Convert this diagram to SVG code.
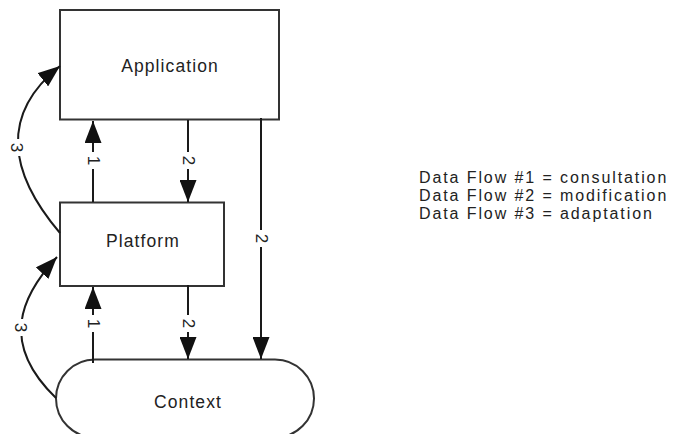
<svg xmlns="http://www.w3.org/2000/svg" width="673" height="434" viewBox="0 0 673 434">
<style>
.node{fill:#fff;stroke:#333;stroke-width:2}
.lbl{font-family:"Liberation Sans",Arial,sans-serif;font-size:17.5px;fill:#222;letter-spacing:1.1px}
.edge{fill:none;stroke:#1a1a1a;stroke-width:2}
.el{font-family:"Liberation Sans",Arial,sans-serif;font-size:17px;fill:#222}
.bg{fill:#fff}
.leg{font-family:"Liberation Sans",Arial,sans-serif;font-size:16px;fill:#222;letter-spacing:1.9px}
</style>
<defs>
<marker id="ah" viewBox="0 0 22 17" refX="22" refY="8.5" markerUnits="userSpaceOnUse" markerWidth="22" markerHeight="17" orient="auto">
<path d="M0,0 L22,8.5 L0,17 z" fill="#111"/>
</marker>
</defs>
<rect width="673" height="434" fill="#fff"/>
<g id="application">
<rect class="node" x="60" y="10" width="219" height="109.5"/>
<text class="lbl" x="170" y="72" text-anchor="middle">Application</text>
</g>
<g id="platform">
<rect class="node" x="60" y="202.5" width="164" height="83.5"/>
<text class="lbl" x="143" y="247" text-anchor="middle">Platform</text>
</g>
<g id="context">
<rect class="node" x="56" y="359.5" width="258" height="78" rx="39" ry="39"/>
<text class="lbl" x="188" y="408" text-anchor="middle">Context</text>
</g>
<g id="connectors">
<path class="edge" d="M93,202 L93,121" marker-end="url(#ah)"/>
<path class="edge" d="M188,120 L188,202" marker-end="url(#ah)"/>
<path class="edge" d="M261,118 L261,359" marker-end="url(#ah)"/>
<path class="edge" d="M93,363 L93,287" marker-end="url(#ah)"/>
<path class="edge" d="M188,285 L188,359" marker-end="url(#ah)"/>
<path class="edge" d="M60,233 C8,172 0,114 60,66" marker-end="url(#ah)"/>
<path class="edge" d="M56,398 C-1,343 21,296 57,257" marker-end="url(#ah)"/>
<rect class="bg" x="86" y="152" width="14" height="17"/>
<text class="el" transform="translate(93,160.5) rotate(90)" text-anchor="middle" dominant-baseline="central">1</text>
<rect class="bg" x="181" y="152" width="14" height="17"/>
<text class="el" transform="translate(188,160.5) rotate(90)" text-anchor="middle" dominant-baseline="central">2</text>
<rect class="bg" x="254" y="230" width="14" height="17"/>
<text class="el" transform="translate(261,238.5) rotate(90)" text-anchor="middle" dominant-baseline="central">2</text>
<rect class="bg" x="86" y="315" width="14" height="17"/>
<text class="el" transform="translate(93,323.5) rotate(90)" text-anchor="middle" dominant-baseline="central">1</text>
<rect class="bg" x="181" y="315" width="14" height="17"/>
<text class="el" transform="translate(188,323.5) rotate(90)" text-anchor="middle" dominant-baseline="central">2</text>
<rect class="bg" x="9" y="139" width="15" height="17"/>
<text class="el" transform="translate(16.5,147.5) rotate(90)" text-anchor="middle" dominant-baseline="central">3</text>
<rect class="bg" x="13" y="319" width="15" height="17"/>
<text class="el" transform="translate(20.5,327.5) rotate(90)" text-anchor="middle" dominant-baseline="central">3</text>
</g>
<g id="legend">
<text class="leg" x="419" y="183">Data Flow #1 = consultation</text>
<text class="leg" x="419" y="201">Data Flow #2 = modification</text>
<text class="leg" x="419" y="219">Data Flow #3 = adaptation</text>
</g>
</svg>
